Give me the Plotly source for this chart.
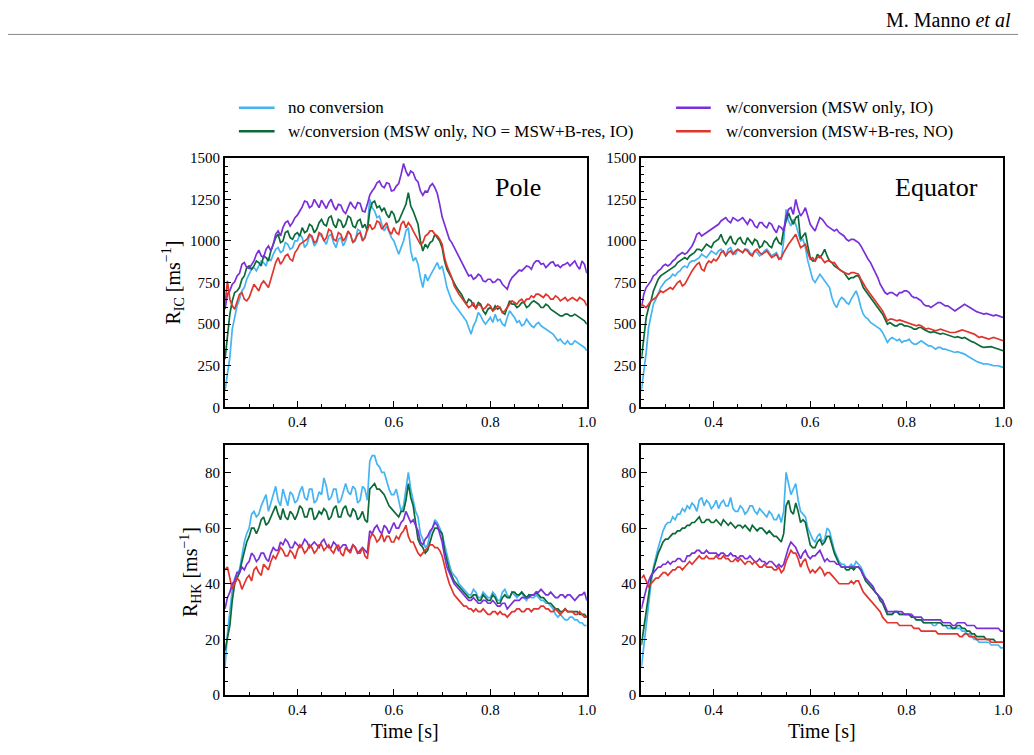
import numpy as np
import plotly.graph_objects as go

# time grid (s), 5 ms steps
time = np.round(np.linspace(0.25, 1.0, 151), 3)

series_names = ["no conversion",
                "w/conversion (MSW only, NO = MSW+B-res, IO)",
                "w/conversion (MSW only, IO)",
                "w/conversion (MSW+B-res, NO)"]
colors = ["#45b4f2", "#0b6a38", "#7a2fd9", "#e0352c"]

# ---------------- Pole, R_IC [1/ms] ----------------
pole_ic_blue = [
    100, 190, 300, 470, 540, 610, 650, 700, 720, 770,
    800, 830, 840, 820, 850, 880, 870, 850, 900, 880,
    920, 950, 960, 930, 940, 990, 980, 950, 960, 1000,
    1000, 1040, 1020, 960, 980, 1030, 1020, 970, 990, 1040,
    1030, 1000, 980, 1030, 1040, 990, 960, 1010, 1020, 970,
    1000, 1050, 1040, 990, 1000, 1070, 1060, 1010, 1020, 1080,
    1250, 1200, 1180, 1140, 1150, 1100, 1060, 1090, 1050, 1020,
    1000, 960, 920, 960, 1000, 1060, 1080, 940, 880, 900,
    860, 780, 720, 800, 760, 790, 820, 840, 870, 830,
    850, 790, 720, 680, 640, 620, 600, 580, 560, 540,
    520, 480, 440, 490, 520, 570, 550, 520, 500, 520,
    540, 510, 560, 520, 530, 500, 490, 540, 580, 560,
    540, 510, 520, 490, 500, 530, 510, 490, 480, 500,
    510, 490, 480, 470, 460, 450, 440, 420, 400, 410,
    390, 380, 400, 380, 380, 400, 390, 380, 370, 360,
    340]
pole_ic_green = [
    290, 420, 560, 640, 690, 700, 720, 770, 790, 840,
    850, 830, 850, 880, 870, 850, 910, 900, 880, 940,
    980, 1020, 1040, 990, 1000, 1050, 1060, 1020, 1010, 1040,
    1050, 1030, 1080, 1050, 1060, 1100, 1090, 1050, 1070, 1110,
    1130, 1100, 1090, 1140, 1150, 1100, 1080, 1130, 1120, 1080,
    1100, 1150, 1140, 1090, 1080, 1120, 1130, 1080, 1100, 1060,
    1180, 1230, 1240, 1200, 1210, 1180, 1200, 1160, 1140, 1180,
    1160, 1110, 1120, 1150, 1180, 1220, 1290, 1210, 1180, 1140,
    1100, 1000, 940, 980, 960, 990, 1000, 1040, 1020, 1000,
    960, 880, 830, 800, 770, 740, 720, 700, 680, 650,
    620, 650, 640, 610, 600, 630, 620, 580, 560, 590,
    600, 580, 610, 590, 600, 570, 560, 600, 640, 620,
    620, 600, 610, 630, 630, 600, 610, 630, 640, 630,
    620, 600, 600, 620, 610, 590, 580, 570, 560, 550,
    550, 560, 560, 550, 550, 560, 550, 540, 530, 520,
    500]
pole_ic_purple = [
    590, 680, 700, 740, 755, 790, 805, 860, 870, 840,
    835, 860, 880, 920, 945, 910, 900, 950, 970, 940,
    980, 1040, 1060, 1030, 1080, 1110, 1120, 1090, 1110, 1140,
    1155, 1180, 1205, 1240, 1235, 1200, 1210, 1250, 1225, 1200,
    1245, 1220, 1195, 1230, 1250, 1210, 1185, 1220, 1215, 1180,
    1165, 1200, 1235, 1210, 1195, 1230, 1225, 1180, 1175, 1220,
    1275, 1300, 1320, 1350, 1360, 1330, 1320, 1350, 1345, 1300,
    1305, 1330, 1345, 1400, 1465, 1420, 1390, 1420, 1410, 1370,
    1355, 1300, 1275, 1300, 1295, 1330, 1345, 1320, 1285, 1220,
    1145, 1100, 1050, 1010, 990, 960, 930, 900, 875, 840,
    815, 790, 795, 770, 780, 800, 790, 760, 755, 770,
    770, 750, 755, 770, 765, 740, 725, 710, 755, 780,
    795, 810, 825, 820, 835, 850, 845, 830, 865, 880,
    880, 860, 865, 840, 855, 870, 875, 850, 855, 840,
    855, 860, 870, 850, 865, 880, 850, 830, 880, 860,
    805]
pole_ic_red = [
    620, 760, 650, 610, 590, 630, 680, 690, 650, 640,
    660, 700, 740, 720, 700, 740, 760, 740, 720, 770,
    820, 870, 900, 860, 880, 910, 920, 890, 880, 930,
    950, 980, 990, 1000, 1010, 1040, 1030, 990, 1000, 1050,
    1040, 1000, 1020, 1070, 1060, 1010, 1000, 1050, 1040, 1000,
    1020, 1060, 1040, 990, 1010, 1040, 1050, 1000, 1020, 1070,
    1100, 1070, 1080, 1120, 1110, 1070, 1090, 1110, 1060, 1040,
    1080, 1050, 1040, 1100, 1120, 1080, 1110, 1090, 1060, 1030,
    1000, 980, 990, 1030, 1040, 1060, 1060, 1040, 1030, 1010,
    980, 900, 850, 820, 780, 730, 700, 680, 660, 640,
    620, 600, 610, 630, 590, 620, 610, 590, 600, 620,
    610, 580, 590, 610, 600, 570, 580, 600, 620, 640,
    630, 620, 640, 650, 630, 650, 650, 670, 660, 680,
    680, 670, 660, 680, 670, 650, 650, 670, 660, 640,
    650, 660, 640, 650, 660, 650, 640, 660, 650, 640,
    610]

# ---------------- Equator, R_IC [1/ms] ----------------
eq_ic_blue = [
    100, 200, 330, 480, 560, 620, 650, 690, 720, 740,
    760, 770, 780, 800, 790, 810, 820, 840, 850, 840,
    870, 880, 880, 890, 900, 920, 910, 900, 920, 940,
    930, 920, 940, 950, 930, 910, 950, 960, 930, 920,
    950, 940, 930, 950, 950, 930, 920, 940, 930, 910,
    920, 940, 950, 930, 910, 920, 930, 900, 890, 1000,
    1190, 1120, 1090, 1130, 1100, 1050, 1000, 1010, 960, 880,
    820, 770, 750, 780, 800, 780, 760, 740, 720, 660,
    620, 600, 640, 660, 650, 630, 620, 650, 680, 700,
    660, 600, 560, 540, 530, 510, 500, 490, 480, 470,
    450, 420, 390, 410, 420, 410, 400, 410, 390, 400,
    400, 410, 390, 380, 380, 390, 400, 390, 380, 370,
    370, 360, 350, 360, 360, 350, 350, 345, 340, 335,
    330, 335, 330, 325, 320, 310, 300, 290, 280, 275,
    270, 265, 260, 262, 260, 255, 250, 252, 250, 245,
    240]
eq_ic_green = [
    290, 420, 540, 600, 640, 700, 740, 770, 790, 800,
    810, 820, 830, 840, 850, 870, 880, 890, 900, 890,
    910, 920, 930, 950, 950, 940, 960, 980, 970, 960,
    990, 1000, 1010, 1040, 1000, 980, 1010, 1030, 990, 980,
    1010, 1020, 990, 980, 1020, 1000, 980, 1010, 1000, 960,
    970, 1000, 990, 970, 960, 1000, 1020, 990, 980, 1070,
    1120, 1170, 1130, 1100, 1140, 1150, 1010, 1030, 1050, 970,
    900, 880, 880, 920, 900, 920, 950, 910, 880, 870,
    850, 840, 830, 820, 810, 790, 770, 780, 780, 790,
    790, 760, 720, 700, 680, 660, 640, 620, 600, 580,
    560, 530, 500, 510, 500, 490, 490, 500, 500, 490,
    490, 485, 480, 470, 470, 480, 480, 470, 460, 455,
    450, 455, 450, 445, 440, 445, 440, 435, 430, 425,
    420, 425, 420, 415, 420, 410, 400, 395, 390, 380,
    370, 365, 360, 362, 360, 365, 360, 355, 350, 345,
    340]
eq_ic_purple = [
    600, 680, 720, 740, 760, 790, 800, 820, 830, 850,
    860, 850, 860, 880, 890, 910, 920, 930, 920, 930,
    950, 970, 1000, 1040, 1050, 1030, 1040, 1050, 1060, 1070,
    1080, 1090, 1100, 1120, 1130, 1140, 1120, 1110, 1140, 1130,
    1120, 1130, 1140, 1120, 1100, 1130, 1120, 1090, 1080, 1110,
    1110, 1090, 1080, 1110, 1100, 1070, 1050, 1090, 1080, 1060,
    1150, 1190, 1200, 1160, 1250, 1190, 1150, 1170, 1200, 1150,
    1100, 1080, 1060, 1100, 1140, 1130, 1110, 1090, 1080, 1070,
    1060, 1070, 1050, 1040, 1030, 1010, 1000, 1010, 1010, 1000,
    990, 970, 940, 920, 890, 870, 840, 810, 780, 740,
    710, 690, 680, 690, 690, 680, 670, 690, 690, 700,
    700, 690, 670, 660, 660, 650, 640, 620, 610, 610,
    600, 610, 620, 630, 630, 620, 610, 610, 600, 590,
    580, 590, 600, 610, 620, 610, 600, 590, 580, 575,
    570, 565, 560, 565, 560, 555, 550, 555, 550, 545,
    540]
eq_ic_red = [
    620, 610, 600, 620, 640, 650, 660, 680, 700, 690,
    700, 710, 720, 710, 730, 750, 760, 730, 740, 770,
    800, 820, 840, 860, 870, 830, 820, 860, 880, 870,
    890, 880, 900, 930, 940, 910, 930, 940, 920, 940,
    950, 940, 930, 950, 940, 920, 910, 940, 950, 930,
    920, 930, 940, 920, 900, 910, 920, 890, 900, 930,
    960, 980, 1000, 1020, 1040, 1000, 960, 970, 980, 930,
    890, 900, 880, 900, 910, 890, 870, 880, 880, 870,
    870, 850, 830, 820, 810, 805, 800, 810, 810, 805,
    800, 770, 740, 720, 700, 680, 660, 640, 620, 600,
    580, 550, 520, 530, 530, 525, 520, 525, 520, 515,
    510, 505, 500, 495, 490, 495, 490, 480, 470, 475,
    470, 465, 460, 465, 470, 465, 460, 455, 450, 450,
    450, 455, 460, 465, 460, 455, 450, 445, 440, 430,
    420, 425, 420, 415, 410, 415, 420, 415, 410, 405,
    400]

# ---------------- Pole, R_HK [1/ms] ----------------
pole_hk_blue = [
    10, 22, 30, 38, 42, 44, 45, 50, 55, 58,
    60, 65, 66, 64, 65, 68, 70, 72, 66, 69,
    72, 75, 70, 68, 74, 71, 68, 73, 72, 69,
    70, 73, 75, 71, 70, 74, 74, 69, 70, 73,
    72, 78, 75, 70, 71, 74, 74, 69, 70, 73,
    76, 73, 72, 75, 74, 69, 70, 75, 74, 70,
    84, 86, 86, 83, 82, 80, 80, 77, 74, 72,
    72, 74, 70, 66, 68, 74, 80, 74, 70, 66,
    64, 58, 56, 53, 54, 58, 60, 63, 62, 60,
    58, 54, 50, 47, 44, 43, 42, 40, 39, 38,
    37, 36, 36, 38, 37, 35, 35, 37, 36, 35,
    35, 37, 36, 34, 34, 37, 38, 36, 35, 37,
    36, 35, 36, 37, 35, 34, 36, 35, 35, 36,
    35, 34, 34, 33, 33, 32, 31, 29, 28, 29,
    28, 27, 27, 28, 28, 27, 27, 26, 26, 25,
    25]
pole_hk_green = [
    16, 20, 25, 34, 40, 42, 44, 48, 52, 55,
    57, 60, 60, 58, 60, 63, 64, 61, 62, 64,
    66, 68, 65, 63, 67, 64, 63, 66, 65, 63,
    65, 68, 67, 64, 64, 67, 67, 63, 64, 66,
    65, 67, 66, 63, 64, 67, 68, 64, 64, 67,
    68, 65, 64, 67, 66, 63, 64, 66, 63, 62,
    74, 75, 76, 74, 74, 73, 72, 70, 68, 67,
    66, 65, 64, 66, 66, 70, 76, 71, 68, 62,
    56, 54, 53, 51, 52, 55, 58, 60, 60, 59,
    58, 52, 48, 45, 43, 41, 40, 39, 38, 37,
    36, 35, 35, 36, 36, 34, 34, 36, 35, 34,
    34, 36, 35, 33, 33, 35, 36, 35, 35, 37,
    37, 36, 36, 37, 36, 35, 36, 36, 36, 37,
    36, 35, 35, 34, 33, 33, 32, 31, 31, 30,
    30, 31, 30, 30, 30, 30, 30, 29, 29, 29,
    28]
pole_hk_purple = [
    31, 35, 37, 40, 41, 44, 44, 46, 45, 47,
    48, 51, 50, 48, 49, 51, 51, 49, 48, 51,
    53, 52, 52, 55, 54, 56, 55, 53, 53, 55,
    54, 53, 54, 56, 55, 53, 54, 55, 54, 53,
    55, 56, 54, 53, 53, 55, 54, 52, 53, 54,
    54, 52, 52, 54, 53, 51, 52, 53, 52, 51,
    59, 58, 60, 61, 59, 58, 61, 60, 58, 60,
    62, 60, 60, 62, 63, 66, 64, 62, 63, 61,
    59, 55, 54, 56, 57, 59, 60, 62, 61, 58,
    55, 50, 46, 44, 42, 40, 39, 38, 37, 36,
    35, 34, 34, 35, 34, 33, 33, 34, 34, 33,
    33, 34, 33, 32, 32, 33, 33, 31, 32, 33,
    34, 34, 34, 35, 35, 35, 35, 36, 36, 37,
    37, 38, 37, 36, 36, 37, 36, 35, 35, 36,
    36, 35, 36, 36, 35, 34, 35, 36, 36, 37,
    34]
pole_hk_red = [
    45, 46, 42, 38, 40, 42, 41, 38, 40, 42,
    43, 41, 45, 46, 44, 43, 47, 46, 45, 48,
    50, 49, 51, 53, 52, 50, 50, 52, 51, 49,
    52, 54, 53, 51, 52, 54, 53, 51, 52, 54,
    54, 52, 53, 54, 52, 51, 53, 54, 51, 50,
    53, 52, 51, 54, 53, 51, 51, 53, 50, 49,
    56, 58, 57, 55, 56, 58, 55, 57, 57, 55,
    55, 57, 56, 58, 59, 61, 57, 55, 55, 53,
    51, 50, 51, 52, 53, 54, 54, 53, 53, 52,
    50, 46, 43, 40, 38, 36, 35, 34, 33, 32,
    32, 31, 31, 30, 31, 30, 30, 31, 30, 29,
    29, 30, 30, 29, 30, 29, 29, 28, 29, 30,
    30, 31, 31, 30, 30, 31, 31, 30, 31, 31,
    31, 32, 32, 31, 31, 30, 30, 31, 30, 29,
    30, 31, 30, 30, 30, 29, 29, 30, 29, 28,
    28]

# ---------------- Equator, R_HK [1/ms] ----------------
eq_hk_blue = [
    10, 18, 25, 34, 40, 46, 50, 53, 56, 59,
    61, 62, 62, 64, 63, 65, 65, 67, 66, 68,
    67, 69, 68, 66, 70, 71, 68, 70, 69, 67,
    68, 70, 67, 69, 70, 68, 68, 71, 67, 66,
    66, 68, 67, 65, 66, 68, 68, 66, 65, 67,
    66, 65, 64, 66, 65, 63, 63, 65, 62, 66,
    80, 76, 72, 74, 76, 70, 66, 65, 64, 60,
    58, 56, 55, 57, 58, 55, 56, 60, 59, 55,
    52, 50, 48, 47, 47, 46, 46, 47, 46, 48,
    47, 46, 44, 42, 41, 40, 39, 37, 36, 35,
    34, 31, 29, 29, 29, 30, 30, 29, 29, 29,
    29, 29, 28, 28, 27, 27, 27, 26, 26, 26,
    26, 25, 25, 26, 26, 25, 25, 24, 24, 24,
    24, 24, 24, 23, 23, 22, 22, 21, 20, 20,
    19, 19, 19, 19, 19, 18, 18, 18, 18, 17,
    17]
eq_hk_green = [
    18, 24, 30, 37, 42, 45, 48, 51, 53, 55,
    56, 56, 57, 58, 58, 59, 59, 60, 60, 61,
    61, 62, 62, 63, 64, 62, 62, 63, 63, 62,
    62, 63, 62, 61, 63, 62, 61, 62, 61, 60,
    61, 61, 60, 61, 60, 59, 61, 60, 59, 60,
    60, 59, 58, 59, 58, 57, 57, 56, 55, 58,
    68, 70, 66, 65, 69, 66, 62, 63, 62, 58,
    54, 53, 53, 55, 56, 54, 55, 57, 57, 54,
    51, 49, 47, 46, 46, 45, 45, 46, 45, 46,
    46, 45, 43, 41, 40, 39, 38, 37, 36, 34,
    33, 31, 29, 29, 29, 30, 30, 29, 29, 29,
    29, 29, 28, 28, 27, 27, 27, 26, 26, 26,
    26, 26, 26, 26, 26, 25, 25, 25, 25, 24,
    24, 25, 25, 24, 24, 23, 23, 22, 22, 21,
    21, 21, 21, 20, 20, 20, 20, 19, 19, 19,
    19]
eq_hk_purple = [
    31, 35, 38, 41, 43, 44, 45, 46, 46, 47,
    47, 48, 47, 48, 48, 49, 49, 48, 48, 50,
    50, 51, 51, 52, 52, 51, 51, 52, 51, 51,
    51, 51, 50, 51, 51, 50, 50, 51, 50, 50,
    49, 50, 50, 49, 49, 50, 49, 48, 48, 49,
    48, 48, 47, 48, 48, 47, 46, 47, 46, 47,
    50, 53, 55, 54, 53, 51, 49, 51, 52, 50,
    49, 50, 50, 51, 52, 50, 48, 49, 48, 48,
    48, 47, 47, 46, 46, 46, 46, 46, 46, 46,
    46, 45, 43, 42, 41, 40, 39, 37, 36, 35,
    34, 32, 30, 30, 30, 30, 30, 30, 30, 29,
    29, 29, 29, 28, 28, 28, 28, 27, 27, 27,
    27, 27, 27, 27, 27, 26, 26, 26, 26, 25,
    25, 26, 26, 26, 26, 25, 25, 25, 25, 24,
    24, 24, 24, 24, 24, 24, 24, 24, 24, 23,
    23]
eq_hk_red = [
    42, 43, 41, 39, 40, 41, 42, 42, 43, 44,
    44, 43, 44, 45, 45, 46, 46, 45, 46, 47,
    48, 47, 48, 49, 50, 49, 49, 50, 49, 49,
    49, 50, 49, 49, 50, 49, 49, 48, 48, 49,
    48, 49, 48, 47, 48, 48, 47, 48, 47, 46,
    46, 47, 46, 46, 46, 45, 45, 46, 44, 45,
    48, 50, 52, 51, 51, 49, 46, 48, 49, 46,
    44, 45, 44, 45, 46, 45, 43, 44, 44, 43,
    42, 41, 40, 40, 40, 40, 40, 41, 40, 41,
    41, 39, 37, 36, 35, 34, 33, 32, 31, 30,
    28, 27, 26, 26, 26, 26, 26, 25, 25, 25,
    25, 25, 25, 24, 24, 24, 23, 23, 23, 23,
    23, 23, 23, 22, 22, 22, 22, 22, 22, 22,
    22, 22, 21, 21, 22, 22, 21, 21, 21, 20,
    20, 20, 20, 20, 20, 19, 19, 19, 19, 19,
    19]

panels = [
    ("x", "y", [pole_ic_blue, pole_ic_green, pole_ic_purple, pole_ic_red]),
    ("x2", "y2", [eq_ic_blue, eq_ic_green, eq_ic_purple, eq_ic_red]),
    ("x3", "y3", [pole_hk_blue, pole_hk_green, pole_hk_purple, pole_hk_red]),
    ("x4", "y4", [eq_hk_blue, eq_hk_green, eq_hk_purple, eq_hk_red]),
]

FONT = "Liberation Serif"
W, H = 1034, 755

fig = go.Figure()
for xa, ya, data in panels:
    for name, col, vals in zip(series_names, colors, data):
        fig.add_trace(go.Scatter(x=time, y=vals, mode="lines", name=name,
                                 line=dict(color=col, width=1.7),
                                 xaxis=xa, yaxis=ya, showlegend=False))

def px_x(p):
    return min(max(p / W, 0), 1)

def px_y(p):
    return min(max(1 - p / H, 0), 1)

xdom_l = [px_x(227), px_x(592)]
xdom_r = [px_x(647), px_x(1012)]
ydom_t = [px_y(408), px_y(153)]
ydom_b = [px_y(702), px_y(446)]

def xax(dom, anchor):
    return dict(domain=dom, anchor=anchor, range=[0.25, 1.0], tickvals=[0.4, 0.6, 0.8, 1.0],
                ticktext=["0.4", "0.6", "0.8", "1.0"], ticks="inside", ticklen=6, tickwidth=1.2,
                tickcolor="black", showline=True, mirror=True, linewidth=2, linecolor="black",
                showgrid=False, zeroline=False,
                minor=dict(dtick=0.05, tick0=0, ticks="inside", ticklen=3, tickcolor="black", showgrid=False),
                tickfont=dict(family=FONT, size=15, color="black"))

def yax(dom, anchor, rng, dtick, mdtick):
    return dict(domain=dom, anchor=anchor, range=rng, dtick=dtick, tick0=0, ticks="inside",
                ticklen=6, tickwidth=1.2, tickcolor="black", showline=True, mirror=True,
                linewidth=2, linecolor="black", showgrid=False, zeroline=False,
                minor=dict(dtick=mdtick, tick0=0, ticks="inside", ticklen=3, tickcolor="black", showgrid=False),
                tickfont=dict(family=FONT, size=15, color="black"))

fig.update_layout(
    width=W, height=H, margin=dict(l=0, r=0, t=0, b=0),
    paper_bgcolor="white", plot_bgcolor="white",
    xaxis=xax(xdom_l, "y"), yaxis=yax(ydom_t, "x", [0, 1500], 250, 50),
    xaxis2=xax(xdom_r, "y2"), yaxis2=yax(ydom_t, "x2", [0, 1500], 250, 50),
    xaxis3=xax(xdom_l, "y3"), yaxis3=yax(ydom_b, "x3", [0, 90], 20, 5),
    xaxis4=xax(xdom_r, "y4"), yaxis4=yax(ydom_b, "x4", [0, 90], 20, 5),
)

ann = []
def text(x, y, s, size, xanchor="center", angle=0):
    ann.append(dict(x=px_x(x), y=px_y(y), xref="paper", yref="paper", text=s, showarrow=False,
                    xanchor=xanchor, yanchor="middle", textangle=angle,
                    font=dict(family=FONT, size=size, color="black")))

text(1022, 12, "M. Manno <i>et al</i>", 20, xanchor="right")
text(523, 183, "Pole", 26)
text(945, 183, "Equator", 26)
text(175, 280, "R<sub>IC</sub> [ms<sup>−1</sup>]", 20, angle=-90)
text(192, 576, "R<sub>HK</sub> [ms<sup>−1</sup>]", 20, angle=-90)
text(409, 739, "Time [s]", 20)
text(829, 739, "Time [s]", 20)

# legend (two columns)
leg = [(241, 277, 102, 0, 289), (241, 277, 126, 1, 289), (682, 717, 102, 2, 730), (682, 717, 126, 3, 730)]
shapes = [dict(type="line", xref="paper", yref="paper", x0=px_x(8), x1=px_x(1027),
               y0=px_y(27), y1=px_y(27), line=dict(color="#8a8a8a", width=1))]
for x0, x1, y, i, tx in leg:
    shapes.append(dict(type="line", xref="paper", yref="paper", x0=px_x(x0), x1=px_x(x1),
                       y0=px_y(y), y1=px_y(y), line=dict(color=colors[i], width=2.5)))
    text(tx, y, series_names[i], 17, xanchor="left")

fig.update_layout(annotations=ann, shapes=shapes)
fig.write_html("out.html")
